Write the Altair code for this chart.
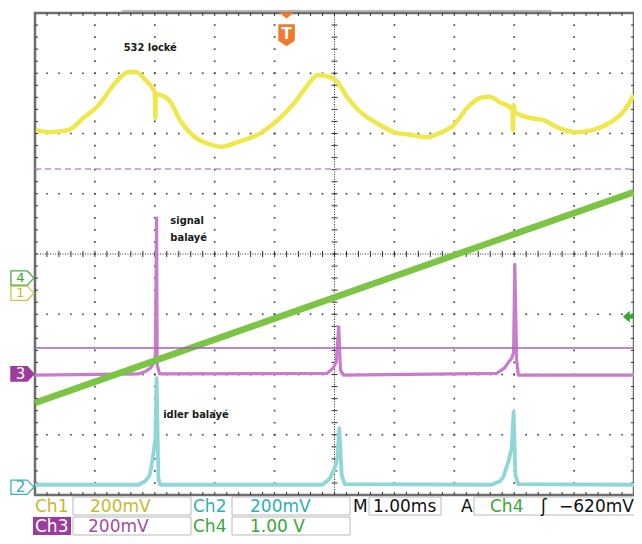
import altair as alt
import pandas as pd

# ---------------- data (x: divisions of 1.00 ms, y: vertical divisions) -------------
ch1_t = [0.02, 0.23, 0.56, 0.81, 1.06, 1.35, 1.56, 1.68, 1.84, 2.00, 2.01, 2.02, 2.23, 2.44, 2.67,
         2.89, 3.11, 3.39, 3.77, 4.05, 4.34, 4.55, 4.72, 4.88, 5.05, 5.22, 5.43, 5.71, 6.00, 6.26,
         6.54, 6.76, 6.99, 7.21, 7.43, 7.59, 7.76, 7.97, 7.98, 7.99, 8.01, 8.21, 8.49, 8.75, 9.04,
         9.32, 9.58, 9.82, 10.0]
ch1_v = [2.06, 2.02, 2.06, 2.26, 2.47, 2.85, 3.02, 3.02, 2.89, 2.68, 2.26, 2.65, 2.56, 2.19, 1.94,
         1.83, 1.78, 1.86, 2.01, 2.22, 2.52, 2.80, 2.97, 2.95, 2.85, 2.59, 2.36, 2.17, 2.02, 1.98,
         1.94, 2.01, 2.14, 2.42, 2.59, 2.61, 2.52, 2.40, 2.06, 2.47, 2.36, 2.27, 2.22, 2.09, 2.02,
         2.06, 2.17, 2.36, 2.64]

ch3_t = [0.0, 1.73, 1.86, 1.93, 1.98, 2.01, 2.03, 2.04, 2.08, 4.88, 4.98, 5.03, 5.07, 5.10, 5.15,
         7.71, 7.84, 7.91, 7.96, 7.99, 8.01, 8.04, 8.07, 10.0]
ch3_v = [-2.01, -1.99, -1.94, -1.89, -1.81, -1.68, 0.60, -1.84, -1.99, -1.98, -1.89, -1.79, -1.21,
         -1.93, -2.01, -1.98, -1.89, -1.79, -1.73, -1.63, -0.17, -1.76, -2.01, -2.01]

ch2_t = [0.0, 1.73, 1.84, 1.91, 1.94, 1.98, 2.01, 2.03, 2.06, 2.09, 4.80, 4.92, 4.97, 5.02, 5.05,
         5.08, 5.12, 5.17, 7.62, 7.76, 7.82, 7.91, 7.96, 7.99, 8.02, 8.07, 10.0]
ch2_v = [-3.83, -3.83, -3.77, -3.68, -3.54, -3.29, -3.04, -2.06, -3.72, -3.83, -3.83, -3.73, -3.63,
         -3.50, -3.37, -2.89, -3.67, -3.82, -3.83, -3.77, -3.70, -3.42, -3.20, -2.62, -3.67, -3.82,
         -3.83]

ch4_t = [0.0, 10.0]
ch4_v = [-2.47, 1.03]

cursor_solid = -1.56
cursor_dashed = 1.41

marker_labels = ["4", "1", "3", "2"]
marker_levels = [-0.40, -0.65, -1.99, -3.87]
trigger_level = -1.04
trigger_pos = 4.20

notes = ["532 locké", "signal", "balayé", "idler balayé"]
notes_t = [1.48, 2.26, 2.26, 2.14]
notes_v = [3.42, 0.55, 0.27, -2.67]

status_row1 = ["Ch1", "200mV", "Ch2", "200mV", "M", "1.00ms", "A", "Ch4", "ʃ", "−620mV"]
status_row2 = ["Ch3", "200mV", "Ch4", "1.00 V"]

# ---------------- layout ----------------
W, H = 599, 482
PL, PT = 35, 13          # page position of plot origin

xs = alt.Scale(domain=[0, 10], nice=False, zero=False)
ys = alt.Scale(domain=[-4, 4], nice=False, zero=False)


def X(f):
    return alt.X(f, type="quantitative", scale=xs, axis=None)


def Y(f):
    return alt.Y(f, type="quantitative", scale=ys, axis=None)


YELLOW, CYAN, PURPLE, GREEN = "#eee84c", "#8fd7d7", "#c87dca", "#7cc444"

# grid dots
dots = []
for gx in [1, 2, 3, 4, 6, 7, 8, 9]:
    for k in range(1, 40):
        dots.append({"x": gx, "y": -4 + 0.2 * k})
for gy in [-3, -2, -1, 1, 2, 3]:
    for k in range(1, 50):
        dots.append({"x": 0.2 * k, "y": gy})
grid = alt.Chart(pd.DataFrame(dots)).mark_square(size=3, color="#3a3a3a", opacity=0.9).encode(
    x=X("x"), y=Y("y"))

# ticks on borders and centre lines
segs = []
for k in range(1, 50):
    xv = 0.2 * k
    segs.append({"x": xv, "x2": xv, "y": -0.05, "y2": 0.05})
    segs.append({"x": xv, "x2": xv, "y": 4, "y2": 3.95})
    segs.append({"x": xv, "x2": xv, "y": -4, "y2": -3.95})
for k in range(1, 40):
    yv = -4 + 0.2 * k
    segs.append({"x": 4.95, "x2": 5.05, "y": yv, "y2": yv})
    segs.append({"x": 0, "x2": 0.05, "y": yv, "y2": yv})
    segs.append({"x": 10, "x2": 9.95, "y": yv, "y2": yv})
ticks = alt.Chart(pd.DataFrame(segs)).mark_rule(color="#333", strokeWidth=1).encode(
    x=X("x"), x2="x2", y=Y("y"), y2="y2")

centre = alt.Chart(pd.DataFrame([
    {"x": 5, "x2": 5, "y": -4, "y2": 4},
    {"x": 0, "x2": 10, "y": 0, "y2": 0},
])).mark_rule(color="#333", strokeWidth=1, strokeDash=[1, 1.5]).encode(
    x=X("x"), x2="x2", y=Y("y"), y2="y2")

top_bar = alt.Chart(pd.DataFrame([{"x": 1.45, "x2": 8.62, "y": 4.035}])).mark_rule(
    color="#b4b4b4", strokeWidth=2).encode(x=X("x"), x2="x2", y=Y("y"))


def trace(t, v, color, sw, interp="linear"):
    df = pd.DataFrame({"t": t, "v": v, "i": range(len(t))})
    return alt.Chart(df).mark_line(color=color, strokeWidth=sw, strokeJoin="round",
                                   interpolate=interp).encode(
        x=X("t"), y=Y("v"), order=alt.Order("i:Q"))


l_ch2 = trace(ch2_t, ch2_v, CYAN, 3.8)
l_ch3 = trace(ch3_t, ch3_v, PURPLE, 3.2)
l_ch4 = trace(ch4_t, ch4_v, GREEN, 6.5)
l_ch1 = trace(ch1_t, ch1_v, YELLOW, 4.5, "monotone")

cursors = alt.Chart(pd.DataFrame([{"y": cursor_solid}])).mark_rule(
    color="#a661b5", strokeWidth=1.5).encode(x=alt.value(0), x2=alt.value(W), y=Y("y"))
cursors_d = alt.Chart(pd.DataFrame([{"y": cursor_dashed}])).mark_rule(
    color="#c48ad3", strokeWidth=1.5, strokeDash=[6, 4]).encode(
    x=alt.value(0), x2=alt.value(W), y=Y("y"))

notes_layer = alt.Chart(pd.DataFrame({"txt": notes, "t": notes_t, "v": notes_v})).mark_text(
    align="left", baseline="middle", font="Liberation Sans Narrow, DejaVu Sans Condensed",
    fontWeight="bold", fontSize=11, color="#1a1a1a").encode(x=X("t"), y=Y("v"), text="txt:N")

# channel ground markers on the left
mk = pd.DataFrame({
    "lab": marker_labels,
    "v": marker_levels,
    "t": [-0.21] * 4,
    "fill": ["#ffffff", "#ffffff", "#9c3c9c", "#ffffff"],
    "stroke": ["#49ad49", "#d2c24a", "#9c3c9c", "#3cb5b5"],
    "tc": ["#3aa63a", "#c9b730", "#ffffff", "#2fb0b0"],
    "fs": [13, 13, 15, 15],
})
arrow_path = "M-1,-0.62 L0.42,-0.62 L1,0 L0.42,0.62 L-1,0.62 Z"
mk_shape = alt.Chart(mk).mark_point(shape=arrow_path, size=529, filled=True, opacity=1,
                                    strokeWidth=1.3).encode(
    x=X("t"), y=Y("v"), fill=alt.Fill("fill:N", scale=None),
    stroke=alt.Stroke("stroke:N", scale=None))
mk_text = alt.Chart(mk).mark_text(font="DejaVu Sans", dx=-2, baseline="middle").encode(
    x=X("t"), y=Y("v"), text="lab:N", color=alt.Color("tc:N", scale=None),
    size=alt.Size("fs:Q", scale=None))

trig = pd.DataFrame({"t": [9.93], "v": [trigger_level]})
trig_arrow = alt.Chart(trig).mark_point(
    shape="M-1,0 L0,-0.85 L0,-0.3 L1,-0.3 L1,0.3 L0,0.3 L0,0.85 Z", size=196, filled=True,
    color="#3aa63a", opacity=1).encode(x=X("t"), y=Y("v"))

tpos = pd.DataFrame({"t": [trigger_pos], "v": [3.63], "vt": [3.96], "lab": ["T"]})
t_body = alt.Chart(tpos).mark_point(
    shape="M-0.75,-1 L0.75,-1 L0.75,0.5 L0,1 L-0.75,0.5 Z", size=484, filled=True,
    color="#f07a2a", opacity=1).encode(x=X("t"), y=Y("v"))
t_tri = alt.Chart(tpos).mark_point(
    shape="M-1,-0.4 L1,-0.4 L0,0.4 Z", size=225, filled=True, color="#f07a2a",
    opacity=1).encode(x=X("t"), y=Y("vt"))
t_txt = alt.Chart(tpos).mark_text(font="DejaVu Sans", fontSize=15, fontWeight="bold",
                                  color="white", baseline="middle", dy=-1).encode(
    x=X("t"), y=Y("v"), text="lab:N")

# status bar (page pixel positions, shifted to plot origin)
R1, R2 = (497, 515), (517, 535)
boxes = pd.DataFrame([
    {"x": 73, "x2": 191, "y": R1[0], "y2": R1[1]},
    {"x": 232, "x2": 350, "y": R1[0], "y2": R1[1]},
    {"x": 369, "x2": 441, "y": R1[0], "y2": R1[1]},
    {"x": 474, "x2": 645, "y": R1[0], "y2": R1[1]},
    {"x": 73, "x2": 191, "y": R2[0], "y2": R2[1]},
    {"x": 232, "x2": 350, "y": R2[0], "y2": R2[1]},
])
for c in ["x", "x2"]:
    boxes[c] = boxes[c] - PL
for c in ["y", "y2"]:
    boxes[c] = boxes[c] - PT
box_layer = alt.Chart(boxes).mark_rect(stroke="#b8b8b8", strokeWidth=1, fill="white").encode(
    x=alt.X("x:Q", scale=None), x2="x2:Q", y=alt.Y("y:Q", scale=None), y2="y2:Q")
ch3_bg = alt.Chart(pd.DataFrame([{"x": 33 - PL, "x2": 71 - PL, "y": R2[0] - PT,
                                  "y2": R2[1] - PT}])).mark_rect(fill="#9c3c9c").encode(
    x=alt.X("x:Q", scale=None), x2="x2:Q", y=alt.Y("y:Q", scale=None), y2="y2:Q")

r1x = [35, 90, 193, 250, 353, 373, 461, 490, 541, 559]
r1c = ["#c9b730", "#c9b730", "#2fb0b0", "#2fb0b0", "#111", "#111", "#111", "#3aa63a", "#111", "#111"]
r2x = [35, 88, 193, 250]
r2c = ["#ffffff", "#a24ca2", "#3aa63a", "#3aa63a"]
st = pd.DataFrame({
    "txt": status_row1 + status_row2,
    "x": [v - PL for v in r1x + r2x],
    "y": [(R1[0] + R1[1]) / 2 + 0.5 - PT] * len(r1x) + [(R2[0] + R2[1]) / 2 + 0.5 - PT] * len(r2x),
    "c": r1c + r2c,
})
st_layer = alt.Chart(st).mark_text(align="left", baseline="middle", font="DejaVu Sans",
                                   fontSize=17).encode(
    x=alt.X("x:Q", scale=None), y=alt.Y("y:Q", scale=None), text="txt:N",
    color=alt.Color("c:N", scale=None))

chart = alt.layer(
    grid, ticks, centre, top_bar,
    l_ch2, l_ch3, l_ch4, l_ch1,
    cursors, cursors_d,
    notes_layer, mk_shape, mk_text, trig_arrow, t_tri, t_body, t_txt,
    box_layer, ch3_bg, st_layer,
).properties(
    width=W, height=H,
    autosize=alt.AutoSizeParams(type="none"),
    padding={"left": PL - 8, "top": PT - 8, "right": 0, "bottom": 528 - (PT - 8) - H},
    background="white",
).configure_view(stroke="#6e6e6e", strokeWidth=2.5)

chart.save("out.html", embed_options={"renderer": "svg", "actions": False})
